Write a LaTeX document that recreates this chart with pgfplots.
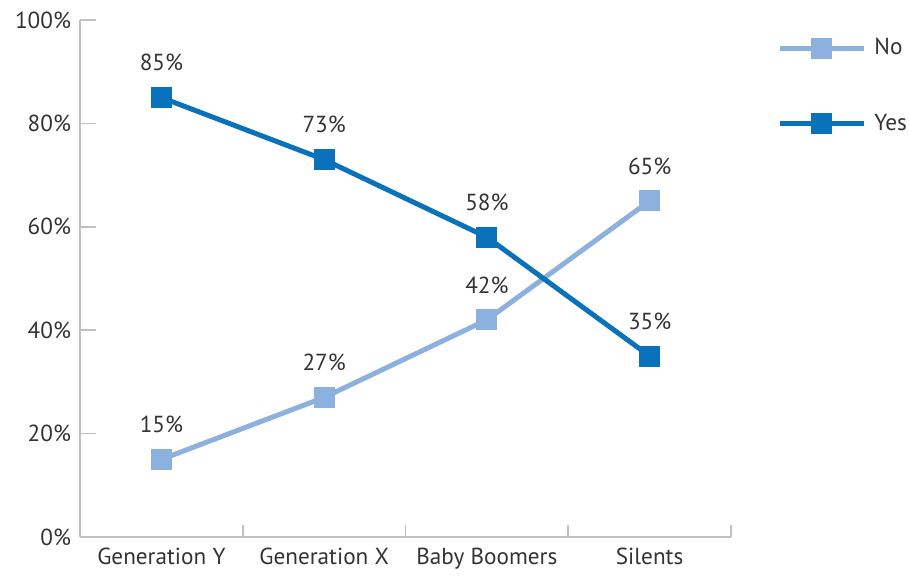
\documentclass[border=0pt]{standalone}
\usepackage{pgfplots}
\pgfplotsset{compat=1.18}
\usepackage{fontspec}
\setmainfont{PT Sans}
\definecolor{noC}{HTML}{8DB1DF}
\definecolor{yesC}{HTML}{0A72BA}
\definecolor{axC}{HTML}{C0C0C0}
\definecolor{txt}{HTML}{333333}
\begin{document}
\begin{tikzpicture}
\useasboundingbox (-40pt,-20.5pt) rectangle (414.5pt,268.5pt);
\begin{axis}[
  at={(0,0)}, anchor=south west,
  scale only axis, width=325.5pt, height=258.5pt,
  xmin=-0.5, xmax=3.5, ymin=0, ymax=100,
  axis x line*=bottom, axis y line*=left,
  axis line style={draw=axC, line width=0.8pt, -},
  xtick={0,1,2,3},
  xticklabels={Generation Y,Generation X,Baby Boomers,Silents},
  major x tick style={draw=none},
  minor xtick={-0.5,0.5,1.5,2.5,3.5},
  minor x tick style={draw=axC, line width=0.8pt},
  minor tick length=6pt,
  ytick={0,20,40,60,80,100},
  yticklabels={0\%,20\%,40\%,60\%,80\%,100\%},
  major y tick style={draw=axC, line width=0.8pt},
  major tick length=8pt,
  tick align=inside,
  tick label style={font=\fontsize{11.6}{14}\selectfont, text=txt},
  yticklabel style={xshift=-1pt},
  xticklabel style={yshift=-2pt},
  nodes near coords={\pgfmathprintnumber[assume math mode=true]{\pgfplotspointmeta}\%},
  every node near coord/.style={font=\fontsize{11.6}{14}\selectfont, text=txt, anchor=south, inner sep=0pt, yshift=12pt},
  legend style={at={(1,1)}, anchor=north west, xshift=23pt, yshift=-9pt, draw=none, fill=none, inner sep=0pt,
    row sep=28pt, font=\fontsize{11.6}{14}\selectfont, text=txt,
    nodes={inner sep=0pt}},
  legend cell align=left,
  legend image code/.code={\draw[mark repeat=2, mark phase=2] plot coordinates {(0pt,0pt)(21pt,0pt)(42pt,0pt)};},
  legend columns=1,
]
\addplot[color=noC, line width=2.5pt, mark=square*, mark size=4pt, mark options={solid}] coordinates {(0,15)(1,27)(2,42)(3,65)};
\addlegendentry{\hspace{4pt}No}
\addplot[color=yesC, line width=2.5pt, mark=square*, mark size=4pt, mark options={solid}] coordinates {(0,85)(1,73)(2,58)(3,35)};
\addlegendentry{\hspace{4pt}Yes}
\end{axis}
\end{tikzpicture}
\end{document}
